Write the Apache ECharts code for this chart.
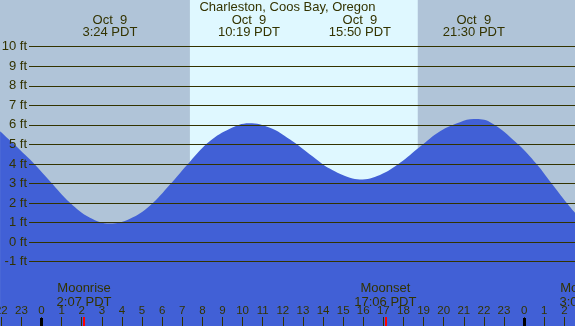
<!DOCTYPE html>
<html lang="en">
<head>
    <meta charset="UTF-8">
    <title>Charleston, Coos Bay, Oregon</title>
    <script src="https://cdn.jsdelivr.net/npm/echarts@6/dist/echarts.min.js"></script>
    <style>
        body { margin: 0; }
        .demo { width: 575px; height: 326px; }
    </style>
</head>
<body>
    <div class="demo"></div>
    <script>
        // tide curve (hours from midnight Oct 9, feet)
        var tideHours = [-2.06, -0.57, 0.42, 1.42, 2.41, 3.4, 4.4, 5.4, 6.39, 7.38, 8.38, 9.37, 10.32, 11.36, 12.36,
            13.35, 14.35, 15.34, 15.83, 16.83, 17.83, 18.82, 19.82, 20.81, 21.5, 22.31, 23.71, 24.62, 25.37, 26.12, 26.53]
        var tideFeet = [5.68, 4.23, 3.12, 2.02, 1.25, 0.95, 1.2, 1.88, 2.95, 4.12, 5.17, 5.8, 6.08, 5.85, 5.25,
            4.49, 3.75, 3.29, 3.21, 3.44, 4.06, 4.88, 5.68, 6.14, 6.3, 6.14, 5.0, 4.0, 3.0, 2.0, 1.5]

        // high / low tide labels
        var extremeHours = [3.4, 10.317, 15.833, 21.5]
        var extremeLabels = ['3:24 PDT', '10:19 PDT', '15:50 PDT', '21:30 PDT']
        var dateLabel = 'Oct  9'

        // daylight
        var sunHours = [7.38, 18.71]

        // moon
        var moonHours = [2.117, 17.1, 27.12]
        var moonLabels = ['Moonrise\n2:07 PDT', 'Moonset\n17:06 PDT', 'Moonrise\n3:07 PDT']

        // axis ticks
        var hourTicks = [-2, -1, 0, 1, 2, 3, 4, 5, 6, 7, 8, 9, 10, 11, 12, 13, 14, 15, 16, 17, 18, 19, 20, 21, 22, 23, 24, 25, 26]
        var midnightTicks = [0, 24]
        var feetTicks = [-1, 0, 1, 2, 3, 4, 5, 6, 7, 8, 9, 10]

        var xMin = -2.064, xMax = 26.53
        var yMin = -4.29, yMax = 12.39
        var ink = '#333300'
        var font = 'Liberation Sans, Arial, sans-serif'

        function pick(list, labels, v) {
            for (var i = 0; i < list.length; i++) {
                if (Math.abs(list[i] - v) < 1e-6) return labels[i]
            }
            return ''
        }
        var moonIn = moonHours.filter(function (h) { return h >= xMin && h <= xMax })
        var noLine = { show: false, onZero: false }

        var div = echarts.init(document.querySelector('.demo'))
        var option = {
            animation: false,
            backgroundColor: '#B0C4D8',
            textStyle: { fontFamily: font },
            title: {
                text: 'Charleston, Coos Bay, Oregon',
                left: 'center',
                top: 1,
                padding: 0,
                textStyle: { fontSize: 13, fontWeight: 'normal', color: ink, fontFamily: font }
            },
            grid: [
                { left: 0, right: 0, top: 0, bottom: 0, outerBoundsMode: 'none', containLabel: false },
                { left: 29, right: 0, top: 46.7, bottom: 64.3, outerBoundsMode: 'none', containLabel: false }
            ],
            xAxis: [
                {
                    // hour ticks
                    type: 'value', gridIndex: 0, min: xMin, max: xMax, position: 'bottom', z: 5,
                    axisLine: noLine,
                    splitLine: { show: false },
                    axisTick: { show: true, inside: true, length: 9, customValues: hourTicks, lineStyle: { color: ink, width: 1 } },
                    axisLabel: {
                        inside: true, margin: 9, fontSize: 11.5, color: ink, customValues: hourTicks,
                        showMinLabel: true, showMaxLabel: true, hideOverlap: false,
                        formatter: function (v) { return String(((v % 24) + 24) % 24) }
                    }
                },
                {
                    // midnight
                    type: 'value', gridIndex: 0, min: xMin, max: xMax, position: 'bottom', z: 6,
                    axisLine: noLine, splitLine: { show: false }, axisLabel: { show: false },
                    axisTick: { show: true, inside: true, length: 8, customValues: midnightTicks, lineStyle: { color: '#000', width: 3 } }
                },
                {
                    // moon rise / set
                    type: 'value', gridIndex: 0, min: xMin, max: xMax, position: 'bottom', z: 6,
                    axisLine: noLine, splitLine: { show: false },
                    axisTick: { show: true, inside: true, length: 9, customValues: moonIn, lineStyle: { color: '#FF0000', width: 2 } },
                    axisLabel: {
                        inside: true, margin: 17, fontSize: 13, lineHeight: 13.5, color: ink, customValues: moonIn,
                        formatter: function (v) { return pick(moonHours, moonLabels, v) }
                    }
                },
                {
                    // high / low labels on top
                    type: 'value', gridIndex: 0, min: xMin, max: xMax, position: 'top', z: 5,
                    axisLine: noLine, splitLine: { show: false }, axisTick: { show: false },
                    axisLabel: {
                        inside: true, margin: 14, fontSize: 13, lineHeight: 12, color: ink, customValues: extremeHours,
                        formatter: function (v) { return dateLabel + '\n' + pick(extremeHours, extremeLabels, v) }
                    }
                },
                { type: 'value', gridIndex: 1, min: xMin, max: xMax, show: false }
            ],
            yAxis: [
                { type: 'value', gridIndex: 0, min: yMin, max: yMax, show: false },
                {
                    type: 'value', gridIndex: 1, min: -1, max: 10, interval: 1, z: 5,
                    axisLine: noLine, axisTick: { show: false },
                    axisLabel: { margin: 2, fontSize: 13, color: ink, formatter: '{value} ft' },
                    splitLine: { show: true, lineStyle: { color: ink, width: 1 } }
                }
            ],
            series: [
                {
                    name: 'daylight',
                    type: 'line',
                    xAxisIndex: 0, yAxisIndex: 0,
                    z: 1,
                    data: [],
                    markArea: {
                        silent: true,
                        itemStyle: { color: '#DFF8FF' },
                        data: [[{ xAxis: sunHours[0] }, { xAxis: sunHours[1] }]]
                    }
                },
                {
                    name: 'tide',
                    type: 'line',
                    xAxisIndex: 0, yAxisIndex: 0,
                    z: 2,
                    smooth: 0.4,
                    showSymbol: false,
                    lineStyle: { width: 0 },
                    areaStyle: { color: '#4160D6', opacity: 1, origin: 'start' },
                    data: tideHours.map(function (h, i) { return [h, tideFeet[i]] })
                }
            ]
        }
        div.setOption(option)

        // moon events beyond the right edge: only part of their label shows
        var extra = []
        moonHours.forEach(function (h, i) {
            if (h > xMax) {
                var px = div.convertToPixel({ xAxisIndex: 0 }, h)
                extra.push({
                    type: 'text', x: px, y: 309, z: 10,
                    style: { text: moonLabels[i], fill: ink, font: '13px ' + font, align: 'center', verticalAlign: 'bottom', lineHeight: 13.5 }
                })
            }
        })
        div.setOption({ graphic: extra })
    </script>
</body>
</html>
